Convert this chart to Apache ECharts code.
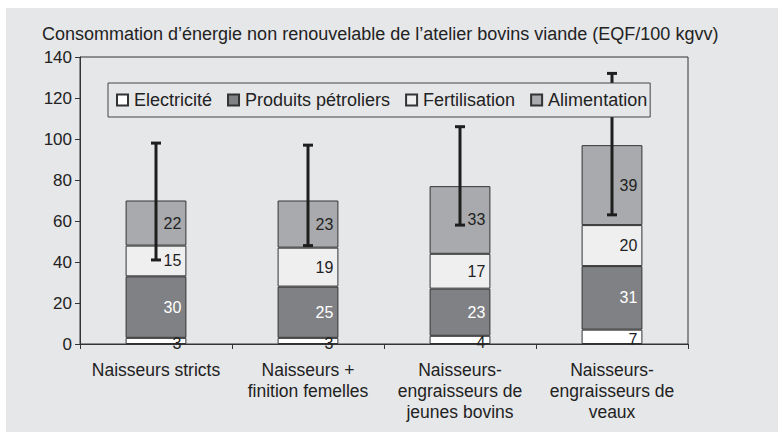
<!DOCTYPE html>
<html>
<head>
<meta charset="utf-8">
<script src="https://cdn.jsdelivr.net/npm/echarts@6/dist/echarts.min.js"></script>
<style>
  html, body { margin: 0; padding: 0; background: #fff; }
  #bg { position: absolute; left: 6px; top: 8px; width: 772px; height: 424px; background: #e6e7e9; }
  #chart { position: absolute; left: 0; top: 0; width: 783px; height: 432px; }
</style>
</head>
<body>
<div id="bg"></div>
<div id="chart"></div>
<script>
(function() {
  var categories = ['Naisseurs stricts', 'Naisseurs +\nfinition femelles', 'Naisseurs-\nengraisseurs de\njeunes bovins', 'Naisseurs-\nengraisseurs de\nveaux'];
  var electricite = [3, 3, 4, 7];
  var petrole = [30, 25, 23, 31];
  var fertilisation = [15, 19, 17, 20];
  var alimentation = [22, 23, 33, 39];
  var errLow = [41, 48, 58, 63];
  var errHigh = [98, 97, 106, 132];
  var yTicks = { min: 0, max: 140, interval: 20 };

  var ink = '#222';
  var font = '"Liberation Sans", Arial, sans-serif';

  function barSeries(name, data, color, labelColor, offset) {
    return {
      name: name,
      type: 'bar',
      stack: 'total',
      barWidth: '40%',
      data: data,
      itemStyle: { color: color, borderColor: '#333', borderWidth: 1 },
      label: {
        show: true, position: 'insideRight', distance: 5,
        offset: offset || [0, 0],
        color: labelColor, fontSize: 16, fontFamily: font
      }
    };
  }

  var errData = errLow.map(function(v, i) { return [i, v, errHigh[i]]; });

  var chart = echarts.init(document.getElementById('chart'), null, { renderer: 'svg' });
  chart.setOption({
    animation: false,
    backgroundColor: 'transparent',
    textStyle: { fontFamily: font },
    title: {
      text: 'Consommation d\u2019énergie non renouvelable de l\u2019atelier bovins viande (EQF/100 kgvv)',
      left: 37, top: 20,
      textStyle: { fontSize: 18, fontWeight: 'normal', color: ink, fontFamily: font }
    },
    legend: {
      left: 108, top: 83,
      padding: [8, 3, 8, 8],
      itemGap: 15,
      itemWidth: 11, itemHeight: 11,
      icon: 'rect',
      backgroundColor: '#e6e7e9',
      borderColor: '#444', borderWidth: 1,
      textStyle: { fontSize: 18, color: ink, fontFamily: font, padding: [0, 0, 0, 1] },
      data: ['Electricité', 'Produits pétroliers', 'Fertilisation', 'Alimentation']
    },
    grid: {
      left: 80, right: 95, top: 57, bottom: 88,
      show: true, borderColor: '#333', borderWidth: 1, backgroundColor: 'transparent'
    },
    xAxis: {
      type: 'category',
      data: categories,
      axisLine: { lineStyle: { color: '#333' } },
      axisTick: { show: true, length: 5, lineStyle: { color: '#333' } },
      axisLabel: { color: ink, fontSize: 17.5, lineHeight: 21, margin: 15, interval: 0 }
    },
    yAxis: {
      type: 'value',
      min: yTicks.min, max: yTicks.max, interval: yTicks.interval,
      axisLine: { show: true, lineStyle: { color: '#333' } },
      axisTick: { show: true, length: 5, lineStyle: { color: '#333' } },
      splitLine: { show: false },
      axisLabel: { color: ink, fontSize: 17, margin: 8 }
    },
    series: [
      barSeries('Electricité', electricite, '#ffffff', ink, [0, 3]),
      barSeries('Produits pétroliers', petrole, '#808184', '#ffffff'),
      barSeries('Fertilisation', fertilisation, '#efeff0', ink),
      barSeries('Alimentation', alimentation, '#a9aaad', ink),
      {
        type: 'custom',
        name: 'erreur',
        data: errData,
        encode: { x: 0, y: [1, 2] },
        z: 3,
        renderItem: function(params, api) {
          var lo = api.coord([api.value(0), api.value(1)]);
          var hi = api.coord([api.value(0), api.value(2)]);
          var x = lo[0], w = 5;
          var st = { stroke: '#1e1e1e', lineWidth: 3 };
          return {
            type: 'group',
            children: [
              { type: 'line', shape: { x1: x, y1: lo[1], x2: x, y2: hi[1] }, style: st },
              { type: 'line', shape: { x1: x - w, y1: lo[1], x2: x + w, y2: lo[1] }, style: st },
              { type: 'line', shape: { x1: x - w, y1: hi[1], x2: x + w, y2: hi[1] }, style: st }
            ]
          };
        }
      }
    ]
  });
  window.addEventListener('resize', function() { chart.resize(); });
})();
</script>
</body>
</html>
